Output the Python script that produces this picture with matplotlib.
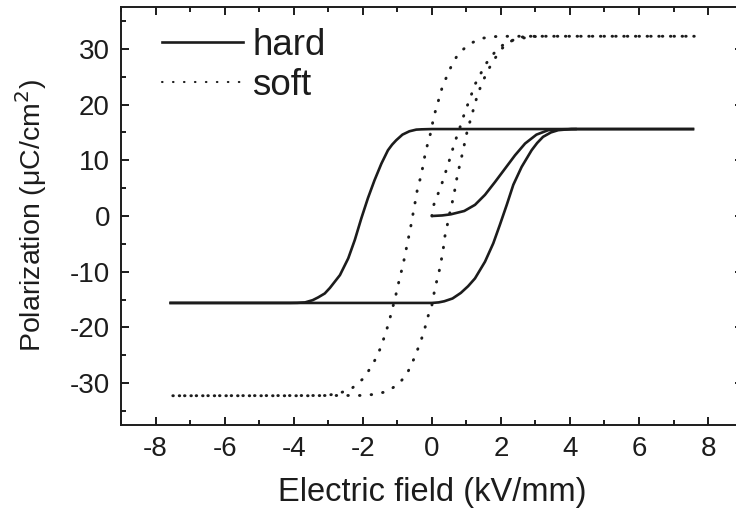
import matplotlib
matplotlib.use('Agg')
import matplotlib.pyplot as plt
from matplotlib.ticker import MultipleLocator
from matplotlib.lines import Line2D

# values (E in kV/mm, P in uC/cm^2)
hard_init_E = [0.0, 0.3, 0.55, 0.94, 1.25, 1.54, 1.83, 2.12, 2.41, 2.7, 3.03, 3.37, 3.75, 4.2]
hard_init_P = [0.0, 0.1, 0.3, 0.9, 2.0, 3.8, 6.1, 8.5, 10.9, 13.0, 14.6, 15.4, 15.55, 15.6]

hard_down_E = [7.6, 0.0, -0.3, -0.45, -0.65, -0.85, -1.03, -1.15, -1.27, -1.46, -1.66, -1.85,
               -2.04, -2.23, -2.42, -2.66, -2.95, -3.1, -3.29, -3.45, -3.67, -3.9, -4.1, -7.6]
hard_down_P = [15.6, 15.6, 15.55, 15.5, 15.2, 14.6, 13.6, 12.8, 11.8, 9.4, 6.4, 3.2,
               -0.4, -4.3, -7.6, -10.6, -12.9, -13.9, -14.6, -15.1, -15.5, -15.58, -15.6, -15.6]

hard_up_E = [-7.6, 0.0, 0.2, 0.36, 0.6, 0.84, 1.05, 1.25, 1.54, 1.78, 1.97, 2.17, 2.36,
             2.6, 2.89, 3.05, 3.22, 3.45, 3.66, 4.04, 7.6]
hard_up_P = [-15.6, -15.6, -15.5, -15.3, -14.8, -13.8, -12.6, -11.2, -8.2, -4.9, -1.6, 2.0, 5.6,
             8.8, 11.8, 13.1, 14.2, 15.0, 15.4, 15.6, 15.6]

soft_init_E = [0.0, 0.02, 0.15, 0.27, 0.38, 0.48, 0.58, 0.68, 0.79, 0.89, 1.01, 1.13,
               1.25, 1.42, 1.59, 1.85, 2.14, 2.47, 3.0]
soft_init_P = [0.0, 1.4, 3.5, 5.4, 7.5, 9.4, 11.5, 13.5, 15.4, 17.4, 19.5, 21.5,
               23.6, 25.6, 27.5, 29.6, 31.1, 31.8, 32.2]

soft_down_E = [7.6, 2.23, 1.85, 1.46, 1.13, 0.79, 0.6, 0.46, 0.31, 0.22, 0.12, 0.04, -0.02,
               -0.11, -0.19, -0.25, -0.31, -0.41, -0.46, -0.53, -0.58, -0.64, -0.71, -0.77,
               -0.84, -0.92, -1.0, -1.07, -1.16, -1.24, -1.34, -1.45, -1.58, -1.75, -1.97,
               -2.31, -2.67, -3.05, -3.5, -7.5]
soft_down_P = [32.25, 32.25, 32.2, 31.9, 31.0, 29.3, 27.4, 25.4, 23.3, 21.3, 19.2, 17.3, 15.2,
               13.2, 11.2, 9.2, 7.2, 5.1, 3.2, 0.9, -0.9, -2.9, -4.9, -6.9,
               -8.9, -10.9, -13.0, -15.0, -17.0, -19.1, -21.0, -23.1, -25.1, -27.0, -29.1,
               -30.9, -31.8, -32.2, -32.25, -32.25]

soft_up_E = [-7.5, -2.0, -1.66, -1.3, -0.95, -0.71, -0.55, -0.42, -0.3, -0.2, -0.11, 0.0,
             0.06, 0.13, 0.21, 0.27, 0.33, 0.37, 0.44, 0.5, 0.58, 0.65, 0.7, 0.77, 0.84,
             0.92, 0.98, 1.06, 1.16, 1.25, 1.35, 1.48, 1.63, 1.83, 2.04, 2.23, 2.57, 3.0, 7.6]
soft_up_P = [-32.25, -32.2, -32.0, -31.5, -30.1, -28.2, -26.1, -24.1, -22.1, -20.1, -18.0, -16.1,
             -14.0, -12.0, -10.0, -8.1, -6.0, -3.9, -1.9, 0.0, 2.1, 4.1, 6.0, 8.1, 10.0,
             12.1, 14.1, 16.0, 18.1, 20.2, 22.2, 24.2, 26.2, 28.3, 30.1, 31.2, 32.1, 32.25, 32.25]

plt.rcParams['font.family'] = ['Liberation Sans', 'DejaVu Sans']
plt.rcParams['axes.unicode_minus'] = False
plt.rcParams['lines.scale_dashes'] = False

ink = '#1c1c1c'
dots = (0, (0.4, 8.0))

fig = plt.figure(figsize=(7.36, 5.11), dpi=100)
ax = fig.add_axes([0.1644, 0.1683, 0.8446, 0.818])

for E, P in [(hard_init_E, hard_init_P), (hard_down_E, hard_down_P), (hard_up_E, hard_up_P)]:
    ax.plot(E, P, color=ink, lw=1.9, solid_capstyle='butt')
for E, P in [(soft_init_E, soft_init_P), (soft_down_E, soft_down_P), (soft_up_E, soft_up_P)]:
    ax.plot(E, P, color=ink, lw=2.1, linestyle=dots, dash_capstyle='round')

ax.set_xlim(-9, 9)
ax.set_ylim(-37.5, 37.5)
ax.xaxis.set_major_locator(MultipleLocator(2))
ax.xaxis.set_minor_locator(MultipleLocator(1))
ax.yaxis.set_major_locator(MultipleLocator(10))
ax.yaxis.set_minor_locator(MultipleLocator(5))
ax.tick_params(which='both', direction='in', top=True, right=True, width=1.4, color=ink,
               labelcolor=ink, labelsize=20)
ax.tick_params(which='major', length=6)
ax.tick_params(which='minor', length=3.5)
ax.tick_params(axis='x', pad=8)
ax.tick_params(axis='y', pad=8)
for s in ax.spines.values():
    s.set_linewidth(1.4)
    s.set_color(ink)

ax.set_xlabel('Electric field (kV/mm)', fontsize=23.5, color=ink, labelpad=11)
ax.set_ylabel('Polarization (\u03bcC/cm$^2$)', fontsize=20.5, color=ink, labelpad=15)

handles = [Line2D([], [], color=ink, lw=1.9),
           Line2D([], [], color=ink, lw=1.5, linestyle=(0, (0.4, 7.5)), dash_capstyle='round')]
ax.legend(handles, ['hard', 'soft'], loc='upper left', bbox_to_anchor=(0.066, 0.95),
          frameon=False, fontsize=26.5, borderpad=0, borderaxespad=0, handlelength=2.2,
          handletextpad=0.25, labelspacing=0.13, labelcolor=ink)

plt.savefig('out.png', dpi=100)
